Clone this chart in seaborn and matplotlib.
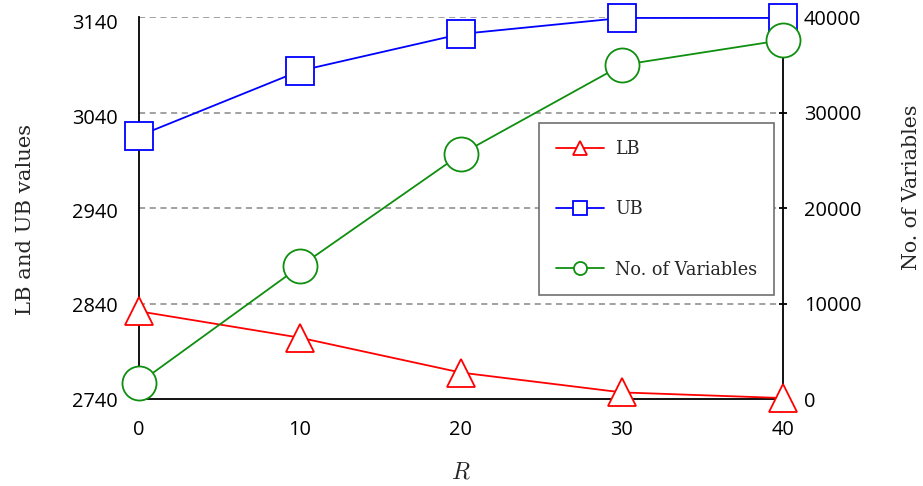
import numpy as np
import matplotlib
matplotlib.use("Agg")
import matplotlib.pyplot as plt
import seaborn as sns

# values
R = [0, 10, 20, 30, 40]
lb = [2833, 2805, 2768, 2747, 2741]
ub = [3019, 3088, 3127, 3144, 3144]
n_vars = [1680, 13890, 25650, 34970, 37590]

left_ticks = [2740, 2840, 2940, 3040, 3140]
right_ticks = [0, 10000, 20000, 30000, 40000]

sns.set_style("white")
plt.rcParams['font.family'] = ['Open Sans', 'DejaVu Sans']
plt.rcParams['mathtext.fontset'] = 'cm'
serif = ['DejaVu Serif']

red, blue, green = '#ff0000', '#0000ff', '#0f8f0f'

fig, ax = plt.subplots(figsize=(9.23, 4.86), dpi=100)
fig.subplots_adjust(left=0.1506, right=0.8483, bottom=0.179, top=0.965)

# right axis: drawn underneath, carries spines and dashed grid
ax_r = ax.twinx()
ax.set_zorder(ax_r.get_zorder() + 1)
ax.patch.set_visible(False)
# separate layer on top for the variables count
ax_v = ax.twinx()
ax_v.set_zorder(ax.get_zorder() + 1)
ax_v.patch.set_visible(False)

line_kw = dict(lw=1.3, mew=1.3, mfc='white', clip_on=False)
sns.lineplot(x=R, y=lb, ax=ax, color=red, mec=red, marker='^', ms=19.5,
             label='LB', **line_kw)
sns.lineplot(x=R, y=ub, ax=ax, color=blue, mec=blue, marker='s', ms=19.5,
             label='UB', **line_kw)
sns.lineplot(x=R, y=n_vars, ax=ax_v, color=green, mec=green, marker='o', ms=24.5,
             label='No. of Variables', **line_kw)

for a in (ax, ax_v):
    if a.get_legend() is not None:
        a.get_legend().remove()

ax.set_xlim(0, 40)
ax.set_xticks(R)
ax.set_ylim(2740, 3145)
ax.set_yticks(left_ticks)
for a in (ax_r, ax_v):
    a.set_ylim(0, 40000)
ax_r.set_yticks(right_ticks)
ax_v.set_yticks([])

for a in (ax, ax_v):
    for s in a.spines.values():
        s.set_visible(False)
for side in ('left', 'right', 'bottom'):
    ax_r.spines[side].set_visible(True)
    ax_r.spines[side].set_color('black')
    ax_r.spines[side].set_linewidth(1.3)
ax_r.spines['top'].set_visible(False)

ax_r.yaxis.grid(True, color='#888888', linestyle=(0, (4, 3)), lw=1.1)
ax_r.xaxis.grid(False)
ax_r.yaxis.get_gridlines()[0].set_visible(False)

ax.tick_params(axis='both', length=0, labelsize=14.4, colors='black')
ax.tick_params(axis='y', pad=15)
ax.tick_params(axis='x', pad=15)
ax_r.tick_params(axis='y', direction='inout', length=6, width=1.3, pad=12,
                 labelsize=14.4, colors='black')
ax_r.tick_params(axis='x', length=0)

ax.set_xlabel('$R$', fontsize=17)
ax.xaxis.set_label_coords(0.5, -0.162)
ax.set_ylabel('LB and UB values', fontsize=15.2, family=serif)
ax.yaxis.set_label_coords(-0.1615, 0.471)
ax_r.set_ylabel('No. of Variables', fontsize=14.8, family=serif)
ax_r.yaxis.set_label_coords(1.185, 0.555)
ax_v.set_ylabel('')

handles, labels = [], []
for a in (ax, ax_v):
    h, l = a.get_legend_handles_labels()
    handles += h
    labels += l
leg = ax_v.legend(handles, labels, loc='upper right', bbox_to_anchor=(0.986, 0.722),
                  borderaxespad=0, frameon=True, fancybox=False, framealpha=1,
                  edgecolor='#707070', prop={'family': serif, 'size': 12.7},
                  labelspacing=2.4, handlelength=2.75, handletextpad=0.6,
                  borderpad=0.95)
leg.get_frame().set_linewidth(1.2)
for h in leg.legend_handles:
    h.set_markersize(9.4)

fig.savefig('out.png', dpi=100)
